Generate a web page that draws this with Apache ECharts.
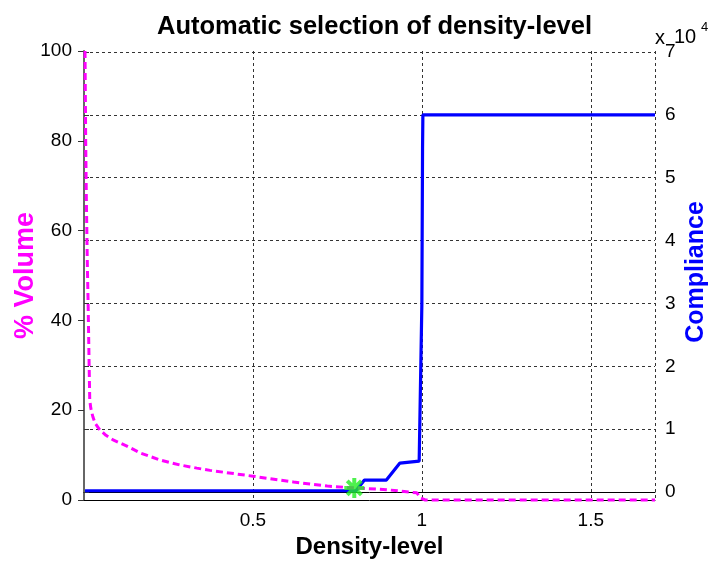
<!DOCTYPE html>
<html>
<head>
<meta charset="utf-8">
<script src="https://cdn.jsdelivr.net/npm/echarts@6/dist/echarts.min.js"></script>
<style>
  html, body { margin: 0; padding: 0; background: #fff; }
  #chart { width: 714px; height: 561px; }
</style>
</head>
<body>
<div id="chart"></div>
<script>
// % Volume curve (left axis)
var volDensity = [0.003, 0.005, 0.007, 0.010, 0.012, 0.015, 0.017, 0.020, 0.026, 0.033, 0.047, 0.065, 0.086, 0.127, 0.166, 0.225, 0.284, 0.334, 0.373, 0.5, 0.62, 0.72, 0.8, 0.895, 0.985, 0.997, 1.01, 1.69];
var volPercent = [100, 80, 66.8, 52, 44.5, 31, 22.3, 20.5, 18.6, 17.1, 15.6, 14.4, 13.4, 12.0, 10.5, 8.9, 7.8, 7.1, 6.6, 5.3, 4.0, 3.1, 2.7, 2.3, 1.6, 0.4, 0, 0];

// Compliance curve (right axis)
var compDensity = [0.003, 0.805, 0.83, 0.895, 0.935, 0.992, 0.995, 1.0, 1.002, 1.003, 1.69];
var compValue = [200, 200, 1900, 1900, 4600, 4900, 4900, 30000, 54700, 60000, 60000];

// Selected density level
var selDensity = [0.8];
var selPercent = [2.7];

var xTicks = [0.5, 1, 1.5];
var xMin = 0, xMax = 1.69;

function pairs(xs, ys) {
  return xs.map(function (x, i) { return [x, ys[i]]; });
}

var font = "'Liberation Sans', Arial, sans-serif";
var gridDash = { color: '#333', width: 1, type: [3, 3] };

// asterisk marker built from four crossing bars
function asteriskPath() {
  var r = 10, w = 2, parts = [];
  for (var k = 0; k < 4; k++) {
    var a = Math.PI * k / 4;
    var c = Math.cos(a), s = Math.sin(a);
    var pts = [[-r, -w], [r, -w], [r, w], [-r, w]].map(function (p) {
      return (p[0] * c - p[1] * s).toFixed(3) + ' ' + (p[0] * s + p[1] * c).toFixed(3);
    });
    parts.push('M' + pts.join(' L') + ' Z');
  }
  return 'path://' + parts.join(' ');
}

var chart = echarts.init(document.getElementById('chart'), null, { renderer: 'canvas' });
chart.setOption({
  animation: false,
  backgroundColor: '#fff',
  title: {
    text: 'Automatic selection of density-level',
    left: 369.5, top: 9, textAlign: 'center',
    textStyle: { fontFamily: font, fontSize: 25.5, fontWeight: 'bold', color: '#000' }
  },
  grid: [
    { left: 84, right: 59, top: 51, bottom: 61, containLabel: false, outerBoundsMode: 'none' },
    { left: 84, right: 59, top: 52, bottom: 69, containLabel: false, outerBoundsMode: 'none' }
  ],
  xAxis: [
    {
      type: 'value', gridIndex: 0, min: xMin, max: xMax, interval: 0.5,
      name: 'Density-level', nameLocation: 'middle', nameGap: 35, nameMoveOverlap: false,
      nameTextStyle: { fontFamily: font, fontSize: 24, fontWeight: 'bold', color: '#000' },
      axisLine: { show: true, lineStyle: { color: '#000', width: 1 } },
      axisTick: { show: false },
      axisLabel: {
        fontFamily: font, fontSize: 19, color: '#000', margin: 11,
        formatter: function (v) { return xTicks.indexOf(v) >= 0 ? String(v) : ''; }
      },
      splitLine: { show: true, lineStyle: gridDash }
    },
    {
      type: 'value', gridIndex: 1, min: xMin, max: xMax, interval: 0.5,
      axisLine: { show: true, lineStyle: { color: '#000', width: 1 } },
      axisTick: { show: false }, axisLabel: { show: false }, splitLine: { show: false }
    }
  ],
  yAxis: [
    {
      type: 'value', gridIndex: 0, position: 'left', min: 0, max: 100, interval: 20,
      name: '% Volume', nameLocation: 'middle', nameGap: 45, nameRotate: 90, nameMoveOverlap: false,
      nameTextStyle: { fontFamily: font, fontSize: 27, fontWeight: 'bold', color: '#ff00ff' },
      axisLine: { show: true, lineStyle: { color: '#666', width: 2 } },
      axisTick: { show: true, inside: false, length: 6, lineStyle: { color: '#333' } },
      axisLabel: { fontFamily: font, fontSize: 19, color: '#000', margin: 12 },
      splitLine: { show: false }
    },
    {
      type: 'value', gridIndex: 1, position: 'right', min: 0, max: 70000, interval: 10000,
      name: 'Compliance', nameLocation: 'middle', nameGap: 29, nameRotate: 90, nameMoveOverlap: false,
      nameTextStyle: { fontFamily: font, fontSize: 25, fontWeight: 'bold', color: '#0000ff' },
      axisLine: { show: true, lineStyle: { color: '#666', width: 2 } },
      axisTick: { show: true, inside: false, length: 5, lineStyle: { color: '#333' } },
      axisLabel: {
        fontFamily: font, fontSize: 19, color: '#000', margin: 10,
        formatter: function (v) { return String(v / 10000); }
      },
      splitLine: { show: true, lineStyle: gridDash }
    }
  ],
  graphic: [
    { type: 'text', left: 655, top: 28, style: { text: 'x', font: '20px ' + font, fill: '#000' } },
    { type: 'text', left: 674, top: 27, style: { text: '10', font: '20px ' + font, fill: '#000' } },
    { type: 'text', left: 701, top: 21, style: { text: '4', font: '13px ' + font, fill: '#000' } }
  ],
  series: [
    {
      type: 'line', xAxisIndex: 1, yAxisIndex: 1, clip: false,
      data: pairs(compDensity, compValue), showSymbol: false,
      lineStyle: { color: '#0000ff', width: 3.2 }, z: 3
    },
    {
      type: 'line', xAxisIndex: 0, yAxisIndex: 0, clip: false,
      data: pairs(volDensity, volPercent), showSymbol: false,
      lineStyle: { color: '#ff00ff', width: 3, type: [7, 4] }, z: 4
    },
    {
      type: 'scatter', xAxisIndex: 0, yAxisIndex: 0,
      data: pairs(selDensity, selPercent),
      symbol: asteriskPath(), symbolSize: 20,
      itemStyle: { color: '#22ee22' }, z: 5
    }
  ]
});
</script>
</body>
</html>
